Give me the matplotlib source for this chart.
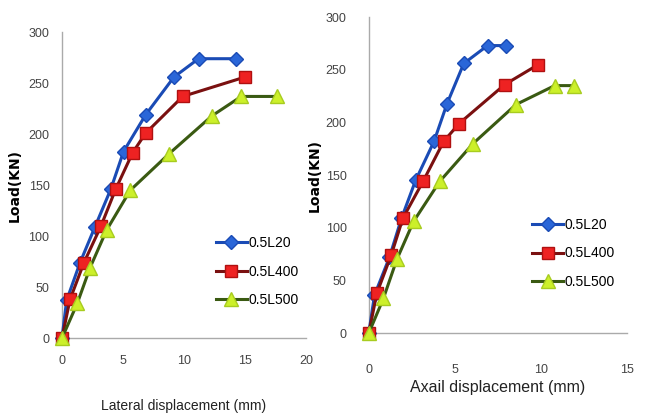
import matplotlib
matplotlib.use("Agg")
import matplotlib.pyplot as plt

# === data ===
lat_l20_x = [0, 0.38, 1.48, 2.7, 4.0, 5.05, 6.86, 9.18, 11.2, 14.3]
lat_l20_y = [0, 37, 74, 109, 146, 183, 219, 256, 274, 274]
lat_l400_x = [0, 0.66, 1.8, 3.2, 4.4, 5.8, 6.86, 9.9, 15.0]
lat_l400_y = [0, 38, 74, 110, 146, 182, 201, 237, 256]
lat_l500_x = [0, 1.25, 2.3, 3.66, 5.6, 8.8, 12.3, 14.7, 17.6]
lat_l500_y = [0, 34, 69, 106, 145, 181, 218, 237, 237]

ax_l20_x = [0, 0.33, 1.2, 1.9, 2.72, 3.79, 4.55, 5.52, 6.9, 7.97]
ax_l20_y = [0, 36, 72, 109, 145, 182, 218, 256, 273, 273]
ax_l400_x = [0, 0.47, 1.3, 1.98, 3.15, 4.35, 5.25, 7.9, 9.85]
ax_l400_y = [0, 38, 74, 109, 144, 182, 199, 236, 255]
ax_l500_x = [0, 0.85, 1.63, 2.6, 4.12, 6.06, 8.55, 10.8, 11.9]
ax_l500_y = [0, 33, 70, 106, 144, 180, 217, 235, 235]

labels = ["0.5L20", "0.5L400", "0.5L500"]

styles = [
    dict(color="#1a4bb5", marker="D", markersize=7, markerfacecolor="#2a66d8",
         markeredgecolor="#1a4bb5", linewidth=2.2),
    dict(color="#7a1010", marker="s", markersize=9, markerfacecolor="#ee2222",
         markeredgecolor="#b01010", linewidth=2.2),
    dict(color="#3a5a12", marker="^", markersize=10, markerfacecolor="#ccf02a",
         markeredgecolor="#a8cc20", linewidth=2.2),
]

FONT = "Liberation Sans"

fig = plt.figure(figsize=(6.47, 4.18), dpi=100)
ax1 = fig.add_axes([0.0958, 0.191, 0.377, 0.732])
ax2 = fig.add_axes([0.570, 0.203, 0.399, 0.756])


def style_axes(ax, xmax, xticks, xpad, ypad):
    ax.set_xlim(0, xmax)
    ax.set_ylim(0, 300)
    ax.set_xticks(xticks)
    ax.set_yticks(range(0, 301, 50))
    for s in ["top", "right"]:
        ax.spines[s].set_visible(False)
    for s in ["left", "bottom"]:
        ax.spines[s].set_color("#aaaaaa")
        ax.spines[s].set_linewidth(1.0)
    ax.tick_params(colors="#aaaaaa", labelcolor="#444444", labelsize=9, length=0)
    ax.tick_params(axis="x", pad=xpad)
    ax.tick_params(axis="y", pad=ypad)
    for lbl in ax.get_xticklabels() + ax.get_yticklabels():
        lbl.set_fontfamily(FONT)


series1 = [(lat_l20_x, lat_l20_y), (lat_l400_x, lat_l400_y), (lat_l500_x, lat_l500_y)]
series2 = [(ax_l20_x, ax_l20_y), (ax_l400_x, ax_l400_y), (ax_l500_x, ax_l500_y)]

for ax, series in [(ax1, series1), (ax2, series2)]:
    for (x, y), lab, st in zip(series, labels, styles):
        ax.plot(x, y, label=lab, clip_on=False, zorder=3, **st)

style_axes(ax1, 20, [0, 5, 10, 15, 20], xpad=12, ypad=9)
style_axes(ax2, 15, [0, 5, 10, 15], xpad=22, ypad=16)

ax1.set_ylabel("Load(KN)", fontsize=10, fontweight="bold", fontfamily="DejaVu Sans")
ax2.set_ylabel("Load(KN)", fontsize=10, fontweight="bold", fontfamily="DejaVu Sans")
ax1.yaxis.set_label_coords(-0.165, 0.5)
ax2.yaxis.set_label_coords(-0.183, 0.5)
ax1.set_xlabel("Lateral displacement (mm)", fontsize=10, fontfamily=FONT,
               color="#222222")
ax2.set_xlabel("Axail displacement (mm)", fontsize=11.5, fontfamily=FONT,
               color="#222222")
ax1.xaxis.set_label_coords(0.5, -0.2)
ax2.xaxis.set_label_coords(0.5, -0.148)

leg_kw = dict(frameon=False, handlelength=2.2, handletextpad=0.1,
              labelspacing=1.05, prop={"family": FONT, "size": 10})
ax1.legend(loc="lower right", bbox_to_anchor=(1.02, 0.06), **leg_kw)
ax2.legend(loc="lower right", bbox_to_anchor=(1.0, 0.1), **leg_kw)

fig.savefig("out.png", dpi=100)
